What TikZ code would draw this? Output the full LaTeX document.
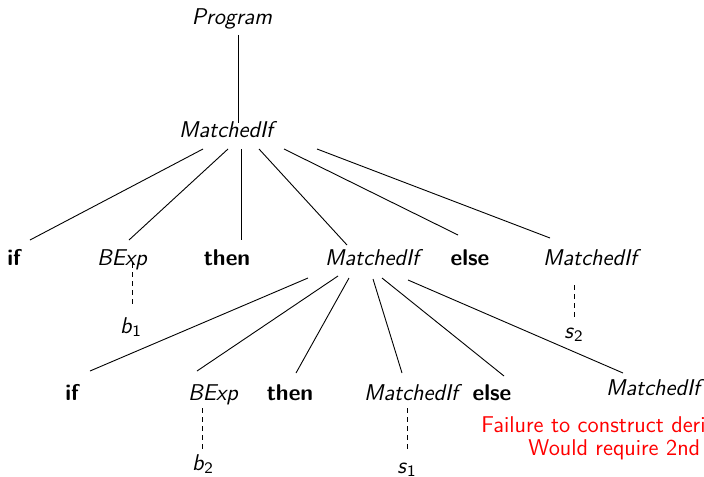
\documentclass[tikz,border=0pt]{standalone}
\begin{document}
\begin{tikzpicture}[x=0.5pt,y=-0.5pt,
  every node/.style={inner sep=0pt, anchor=base, font=\sffamily\fontsize{11.4}{13.5}\selectfont},
  nt/.style={font=\sffamily\itshape\fontsize{11.4}{13.5}\selectfont},
  term/.style={font=\sffamily\bfseries\fontsize{11.4}{13.5}\selectfont},
  leaf/.style={font=\sffamily\fontsize{11.4}{13.5}\selectfont},
  note/.style={anchor=base west, text=red},
  edge/.style={line width=0.45pt},
  derive/.style={line width=0.45pt, dash pattern=on 2.5pt off 2pt}]
\useasboundingbox (0,0) rectangle (704,476);
\clip (0,0) rectangle (704,476);

% nonterminals and terminals of the derivation
\node[nt] (prog) at (232,25) {Program};
\node[nt] (m0) at (226,137) {MatchedIf};

\node[term] (if1) at (14,265) {if};
\node[nt] (be1) at (122,265) {BExp};
\node[term] (th1) at (227,265) {then};
\node[nt] (m1) at (372,265) {MatchedIf};
\node[term] (el1) at (470,265) {else};
\node[nt] (m2) at (590,265) {MatchedIf};

\node[leaf] (b1) at (131,333) {\textit{b}$_{\mathsf{1}}$};
\node[leaf] (s2) at (574,338) {\textit{s}$_{\mathsf{2}}$};

\node[term] (if2) at (72,400) {if};
\node[nt] (be2) at (213,400) {BExp};
\node[term] (th2) at (290,400) {then};
\node[nt] (m3) at (411,400) {MatchedIf};
\node[term] (el2) at (492,400) {else};
\node[nt] (m4) at (653,395) {MatchedIf};

\node[leaf] (b2) at (203,470) {\textit{b}$_{\mathsf{2}}$};
\node[leaf] (s1) at (407,473) {\textit{s}$_{\mathsf{1}}$};

\node[note] (fail1) at (481,432) {Failure to construct deri};
\node[note] (fail2) at (528,455) {Would require 2nd};

% tree edges
\draw[edge] ([shift={(6,10)}]prog.base) -- ([shift={(12,-14)}]m0.base);

\draw[edge] ([shift={(-23,12)}]m0.base) -- ([shift={(16,-25)}]if1.base);
\draw[edge] ([shift={(2,12)}]m0.base) -- ([shift={(7,-25)}]be1.base);
\draw[edge] ([shift={(15,12)}]m0.base) -- ([shift={(14,-25)}]th1.base);
\draw[edge] ([shift={(33,12)}]m0.base) -- ([shift={(-25,-20)}]m1.base);
\draw[edge] ([shift={(58,12)}]m0.base) -- ([shift={(-12,-30)}]el1.base);
\draw[edge] ([shift={(91,12)}]m0.base) -- ([shift={(-40,-27)}]m2.base);

\draw[edge] ([shift={(-64,13)}]m1.base) -- ([shift={(18,-29)}]if2.base);
\draw[edge] ([shift={(-34,11)}]m1.base) -- ([shift={(-16,-29)}]be2.base);
\draw[edge] ([shift={(-23,13)}]m1.base) -- ([shift={(6,-27)}]th2.base);
\draw[edge] ([shift={(1,14)}]m1.base) -- ([shift={(-9,-27)}]m3.base);
\draw[edge] ([shift={(10,13)}]m1.base) -- ([shift={(12,-24)}]el2.base);
\draw[edge] ([shift={(36,15)}]m1.base) -- ([shift={(-30,-22)}]m4.base);

% elided sub-derivations
\draw[derive] ([shift={(10.7,-2)}]be1.base) -- ([shift={(1.7,-28)}]b1.base);
\draw[derive] ([shift={(-16,20)}]m2.base) -- ([shift={(0,-18)}]s2.base);
\draw[derive] ([shift={(-11,8)}]be2.base) -- ([shift={(-1,-20)}]b2.base);
\draw[derive] ([shift={(-4,8)}]m3.base) -- ([shift={(0,-23)}]s1.base);
\end{tikzpicture}
\end{document}
